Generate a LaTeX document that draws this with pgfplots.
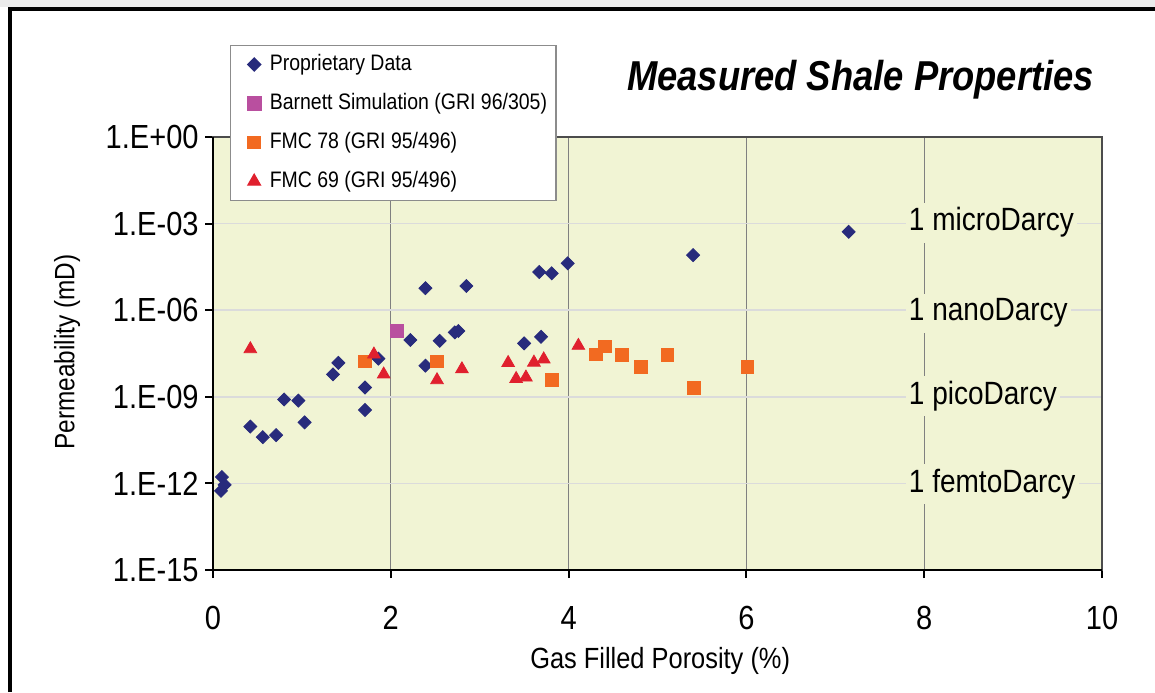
\documentclass[border=0pt]{standalone}
\usepackage{pgfplots}
\pgfplotsset{compat=1.18}
\usepackage{fontspec}
\setmainfont{Liberation Sans}[FakeStretch=0.87]

\definecolor{plotbg}{RGB}{241,244,212}
\definecolor{navy}{RGB}{40,43,124}
\definecolor{barnett}{RGB}{185,79,159}
\definecolor{fmcorange}{RGB}{242,106,33}
\definecolor{fmcred}{RGB}{224,32,46}

\begin{document}
\begin{tikzpicture}
\useasboundingbox (0pt,0pt) rectangle (577.5pt,346pt);
\fill[white] (0pt,0pt) rectangle (577.5pt,346pt);
\fill[black!8] (0pt,342.5pt) rectangle (577.5pt,346pt);
\draw[black, line width=2pt] (4.75pt,0pt) -- (4.75pt,341.25pt) -- (577.5pt,341.25pt);

\node[anchor=base east, font=\fontsize{20.9}{24}\selectfont\bfseries\itshape]
  at (550.5pt,300.5pt) {Measured Shale Properties};

\begin{axis}[
  name=ax,
  at={(106.5pt,61pt)}, anchor=south west,
  width=444.5pt, height=216.5pt, scale only axis,
  clip=false,
  xmin=0, xmax=10,
  ymode=log, ymin=1e-15, ymax=1,
  xtick={0,2,4,6,8,10}, xticklabels={0,2,4,6,8,10},
  ytick={1e-15,1e-12,1e-9,1e-6,1e-3,1},
  yticklabels={1.E-15,1.E-12,1.E-09,1.E-06,1.E-03,1.E+00},
  yminorticks=false,
  axis background/.style={fill=plotbg},
  grid=major,
  major x grid style={draw=black!50, line width=0.5pt},
  major y grid style={draw=black!14, line width=0.8pt},
  axis line style={draw=black!70, line width=1pt},
  xtick pos=bottom, ytick pos=left, tick align=outside,
  major tick length=4pt,
  tick style={black, line width=1pt},
  ticklabel style={font=\fontsize{16.7}{19}\selectfont},
  xticklabel style={anchor=base, yshift=-25.5pt},
  yticklabel style={anchor=east, inner xsep=0pt, xshift=-3pt},
  xlabel={Gas Filled Porosity (\%)},
  xlabel style={at={(axis description cs:0.503,-0.21)}, anchor=center,
    font=\fontsize{14.6}{17}\selectfont},
  ylabel={Permeability (mD)},
  ylabel style={at={(axis description cs:-0.1642,0.5035)}, anchor=center,
    font=\fontsize{14}{17}\selectfont},
  legend style={at={(axis description cs:0.0191,1.2125)}, anchor=north west,
    draw=black!45, line width=0.6pt, fill=white,
    inner xsep=2pt, inner ysep=4pt, row sep=8.6pt,
    font=\fontsize{11.2}{13}\selectfont,
    nodes={inner xsep=2.5pt, inner ysep=0pt, text height=8.4pt, text depth=2.5pt}},
  legend cell align=left,
  legend image code/.code={\path (0pt,-3pt) (14.5pt,3pt);
    \draw[#1] plot coordinates {(9.5pt,0pt)};},
]

% core measurements
\addplot[only marks, mark=square*, mark size=2.3pt,
  mark options={rotate=45, draw=navy, fill=navy}] coordinates {
  (0.10,1.66e-12) (0.13,8.9e-13) (0.09,5.5e-13)
  (0.42,9.3e-11) (0.56,4.0e-11) (0.71,4.7e-11)
  (0.80,8.1e-10) (0.96,7.4e-10) (1.03,1.3e-10)
  (1.35,6.0e-9) (1.41,1.5e-8) (1.71,2.1e-9) (1.71,3.5e-10) (1.86,2.1e-8)
  (2.22,9.3e-8) (2.39,5.8e-6) (2.39,1.2e-8) (2.55,8.7e-8)
  (2.72,1.7e-7) (2.76,1.9e-7) (2.85,6.9e-6)
  (3.50,7.1e-8) (3.69,1.2e-7) (3.67,2.1e-5) (3.81,1.9e-5) (3.99,4.2e-5)
  (5.40,8.1e-5) (7.15,5.2e-4)
};
\addlegendentry{Proprietary Data}

\addplot[only marks, mark=square*, mark size=3.4pt,
  mark options={draw=barnett, fill=barnett}] coordinates {
  (2.07,1.9e-7)
};
\addlegendentry{Barnett Simulation (GRI 96/305)}

\addplot[only marks, mark=square*, mark size=3.15pt,
  mark options={draw=fmcorange, fill=fmcorange}] coordinates {
  (1.71,1.66e-8) (2.52,1.66e-8) (3.81,3.8e-9) (4.31,2.95e-8) (4.41,5.5e-8)
  (4.60,2.8e-8) (4.81,1.1e-8) (5.11,2.8e-8) (5.41,2.0e-9) (6.01,1.1e-8)
};
\addlegendentry{FMC 78 (GRI 95/496)}

\addplot[only marks, mark=triangle*, mark size=3.65pt,
  mark options={draw=fmcred, fill=fmcred}] coordinates {
  (0.42,4.5e-8) (1.81,2.95e-8) (1.92,6.0e-9) (2.52,3.8e-9) (2.80,9.1e-9)
  (3.32,1.5e-8) (3.41,4.2e-9) (3.52,4.7e-9) (3.61,1.55e-8) (3.72,2.0e-8)
  (4.11,5.9e-8)
};
\addlegendentry{FMC 69 (GRI 95/496)}

% unit reference labels
\begin{scope}[every node/.style={anchor=west, fill=plotbg, inner xsep=1.5pt,
    inner ysep=2.5pt, font=\fontsize{16.1}{18}\selectfont}]
\node at (axis cs:7.79,1e-3) [yshift=0.5pt] {1 microDarcy};
\node at (axis cs:7.79,1e-6) [yshift=-1.5pt] {1 nanoDarcy};
\node at (axis cs:7.79,1e-9) [yshift=0.5pt] {1 picoDarcy};
\node at (axis cs:7.79,1e-12) [yshift=-0.5pt] {1 femtoDarcy};
\end{scope}
\end{axis}

\draw[black, line width=1.1pt] (ax.north west) -- (ax.south west) -- (ax.south east);
\end{tikzpicture}
\end{document}
